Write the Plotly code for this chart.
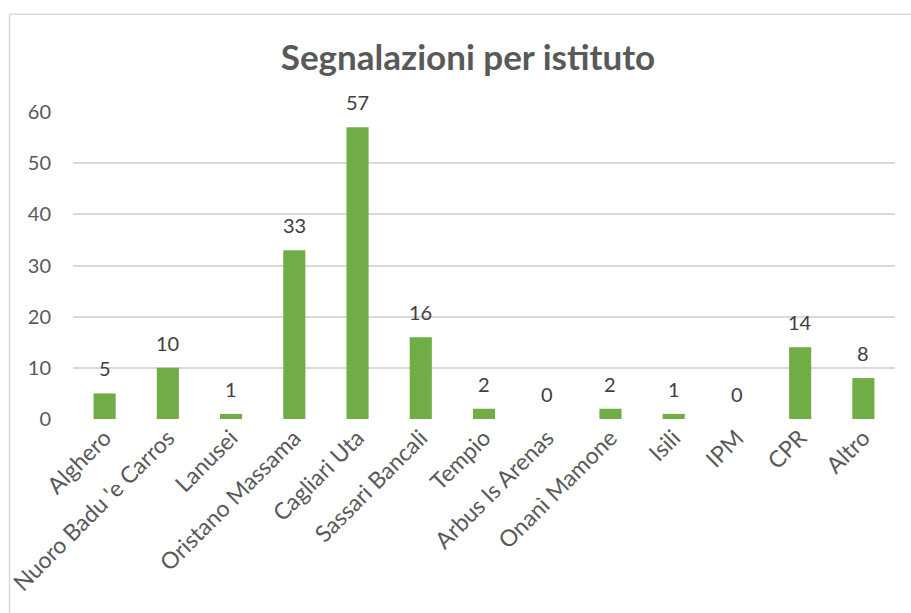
import plotly.graph_objects as go

categories = ["Alghero", "Nuoro Badu 'e Carros", "Lanusei", "Oristano Massama",
              "Cagliari Uta", "Sassari Bancali", "Tempio", "Arbus Is Arenas",
              "Onanì Mamone", "Isili", "IPM", "CPR", "Altro"]
values = [5, 10, 1, 33, 57, 16, 2, 0, 2, 1, 0, 14, 8]

GREEN = "#70AD47"
GREY = "#595959"
LABEL = "#404040"
FONT = "Lato"

fig = go.Figure(go.Bar(
    x=categories, y=values, marker_color=GREEN, marker_line_width=0,
))

for c, v in zip(categories, values):
    fig.add_annotation(x=c, y=v, text=str(v), showarrow=False,
                       yanchor="bottom", yshift=11,
                       font=dict(size=20, color=LABEL, family=FONT))

W, H = 911, 613
L, R, T, B = 73, 16, 111.5, 194
pw, ph = W - L - R, H - T - B

def px2x(p):
    return (p - L) / pw

def py2y(p):
    return (H - B - p) / ph

fig.update_layout(
    width=W, height=H,
    margin=dict(l=L, r=R, t=T, b=B, autoexpand=False),
    paper_bgcolor="white", plot_bgcolor="white",
    bargap=0.65,
    showlegend=False,
    title=dict(text="<b>Segnalazioni per istituto</b>", x=468 / W, xanchor="center",
               y=1 - 58 / H, yanchor="middle",
               font=dict(size=35, color=GREY, family=FONT)),
    xaxis=dict(tickangle=-45, tickfont=dict(size=23, color=GREY, family=FONT),
               showline=False, ticks="", automargin=False),
    yaxis=dict(range=[0, 60], dtick=10, showgrid=True, gridcolor="#D9D9D9",
               gridwidth=1.5, zeroline=False,
               tickfont=dict(size=20, color=GREY, family=FONT),
               ticks="", showline=False, automargin=False, ticklabelstandoff=21),
    shapes=[
        dict(type="line", xref="paper", yref="paper",
             x0=px2x(9.5), x1=px2x(9.5), y0=py2y(620), y1=py2y(13.5),
             line=dict(color="#D9D9D9", width=1.5), layer="below"),
        dict(type="line", xref="paper", yref="paper",
             x0=px2x(9.5), x1=px2x(920), y0=py2y(13.5), y1=py2y(13.5),
             line=dict(color="#D9D9D9", width=1.5), layer="below"),
    ],
)

fig.write_html("out.html", config={"displayModeBar": False},
               post_script="document.body.style.margin='0';document.body.style.overflow='hidden';")
